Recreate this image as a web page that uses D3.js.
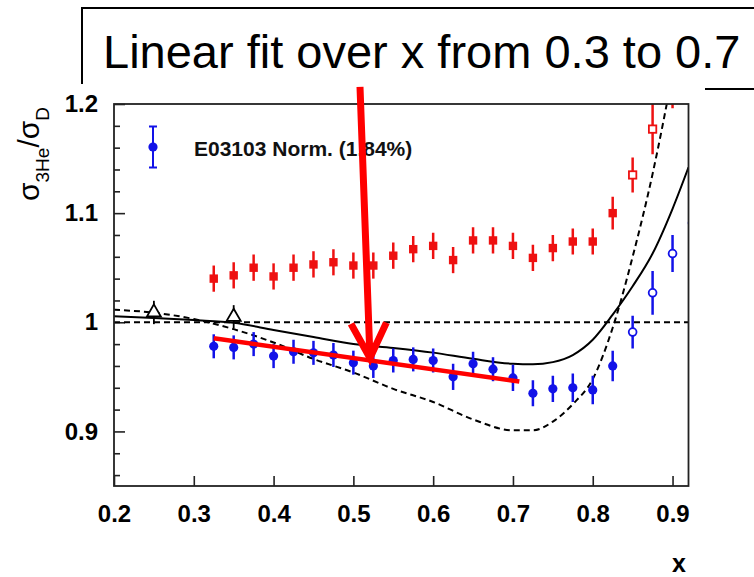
<!DOCTYPE html>
<html>
<head>
<meta charset="utf-8">
<script src="https://cdnjs.cloudflare.com/ajax/libs/d3/7.8.5/d3.min.js"></script>
<style>
  body { margin: 0; background: #fff; }
  svg { display: block; font-family: "Liberation Sans", Arial, Helvetica, sans-serif; }
</style>
</head>
<body>
<div id="scatter"></div>
<script>
// E03103 filled points (blue)
var blueX = [0.325, 0.35, 0.375, 0.4, 0.425, 0.45, 0.475, 0.5, 0.525, 0.55, 0.575,
             0.6, 0.625, 0.65, 0.675, 0.7, 0.725, 0.75, 0.775, 0.8, 0.825];
var blueY = [0.978, 0.977, 0.980, 0.969, 0.973, 0.972, 0.970, 0.963, 0.960, 0.965, 0.966,
             0.965, 0.950, 0.962, 0.957, 0.949, 0.935, 0.939, 0.940, 0.938, 0.960];
var blueErr = [0.011, 0.011, 0.011, 0.011, 0.011, 0.011, 0.011, 0.011, 0.011, 0.011, 0.011,
               0.011, 0.012, 0.011, 0.011, 0.012, 0.012, 0.012, 0.013, 0.013, 0.014];
// E03103 open points (blue)
var blueOpenX = [0.85, 0.875, 0.9, 0.925];
var blueOpenY = [0.991, 1.027, 1.063, 1.091];
var blueOpenErr = [0.015, 0.020, 0.017, 0.020];

// red squares
var redX = [0.325, 0.35, 0.375, 0.4, 0.425, 0.45, 0.475, 0.5, 0.525, 0.55, 0.575,
            0.6, 0.625, 0.65, 0.675, 0.7, 0.725, 0.75, 0.775, 0.8, 0.825];
var redY = [1.040, 1.043, 1.050, 1.042, 1.050, 1.053, 1.055, 1.052, 1.052, 1.061, 1.067,
            1.070, 1.057, 1.075, 1.075, 1.070, 1.059, 1.068, 1.074, 1.074, 1.100];
var redErr = [0.012, 0.012, 0.012, 0.012, 0.012, 0.012, 0.012, 0.012, 0.012, 0.012, 0.012,
              0.012, 0.012, 0.012, 0.012, 0.012, 0.012, 0.012, 0.012, 0.012, 0.015];
var redOpenX = [0.85, 0.875, 0.9];
var redOpenY = [1.135, 1.177, 1.215];
var redOpenErr = [0.016, 0.023, 0.019];

// open triangles (black)
var triX = [0.25, 0.35];
var triY = [1.009, 1.005];
var triErr = [0.0107, 0.0107];

// model curves
var curveX = [0.2, 0.25, 0.3, 0.35, 0.4, 0.45, 0.5, 0.55, 0.6, 0.65, 0.7, 0.725,
              0.75, 0.775, 0.8, 0.825, 0.85, 0.875, 0.9, 0.92];
var solidY = [1.0055, 1.004, 1.002, 0.9995, 0.993, 0.9865, 0.980, 0.9765, 0.9722, 0.9665, 0.962, 0.9615,
              0.9635, 0.970, 0.984, 1.007, 1.033, 1.063, 1.104, 1.142];
var dashedY = [1.0115, 1.0088, 1.003, 0.9937, 0.9815, 0.9664, 0.954, 0.939, 0.927, 0.911, 0.901, 0.901,
               0.909, 0.925, 0.948, 0.995, 1.060, 1.136, 1.228, 1.310];

// linear fit over x from 0.3 to 0.7
var fitRange = [0.325, 0.708];
var fitSlope = -0.1037;
var fitIntercept = 1.0191;
// arrow (data coordinates)
var arrowTail = [0.5083, 1.2156];
var arrowTip = [0.5208, 0.9673];

var xTicks = [0.2, 0.3, 0.4, 0.5, 0.6, 0.7, 0.8, 0.9];
var yTicks = [0.9, 1, 1.1, 1.2];
var yMinorTicks = [0.86, 0.88, 0.92, 0.94, 0.96, 0.98, 1.02, 1.04, 1.06, 1.08, 1.12, 1.14, 1.16, 1.18];

var legendLabel = "E03103 Norm. (1.84%)";
var noteText = "Linear fit over x from 0.3 to 0.7";

var BLUE = "#1212e8";
var RED = "#ee1111";

function zipPts(xs, ys, es) {
    return xs.map(function(x, i) { return {x: x, y: ys[i], e: es ? es[i] : 0}; });
}

doWork();

function doWork() {
    // 1) canvas
    var svg_width = 754;
    var svg_height = 577;
    var margin = { top: 104, right: 65.5, bottom: 91, left: 114 };
    var chartWidth = svg_width - margin.left - margin.right;
    var chartHeight = svg_height - margin.top - margin.bottom;

    var svg = d3.select("#scatter")
        .append("svg")
        .attr("width", svg_width)
        .attr("height", svg_height);

    // note box behind the plot
    svg.append("path")
        .attr("d", "M82,84 L82,8 L754,8 M705,89 L754,89")
        .attr("fill", "none")
        .attr("stroke", "#000")
        .attr("stroke-width", 2);
    svg.append("text")
        .attr("x", 103)
        .attr("y", 68)
        .attr("font-size", 47)
        .attr("fill", "#000")
        .text(noteText);

    var chartGroup = svg.append("g")
        .attr("transform", `translate(${margin.left}, ${margin.top})`);

    chartGroup.append("clipPath")
        .attr("id", "frameClip")
        .append("rect")
        .attr("width", chartWidth)
        .attr("height", chartHeight);

    // 2) scales
    var xScale = d3.scaleLinear().domain([0.2, 0.92]).range([0, chartWidth]);
    var yScale = d3.scaleLinear().domain([0.85, 1.2]).range([chartHeight, 0]);

    // 3) axes (ticks inward)
    var bottom_axis = d3.axisBottom(xScale)
        .tickValues(xTicks)
        .tickSize(-10)
        .tickPadding(19)
        .tickFormat(d3.format(".1f"));
    var left_axis = d3.axisLeft(yScale)
        .tickValues(yTicks)
        .tickSize(-11)
        .tickPadding(16)
        .tickFormat(function(d) { return d === 1 ? "1" : d3.format(".1f")(d); });
    var left_minor = d3.axisLeft(yScale)
        .tickValues(yMinorTicks)
        .tickSize(-6)
        .tickFormat("");

    [[bottom_axis, `translate(0, ${chartHeight})`], [left_axis, null], [left_minor, null]].forEach(function(a) {
        var g = chartGroup.append("g").call(a[0]);
        if (a[1]) g.attr("transform", a[1]);
        g.select(".domain").remove();
        g.attr("font-family", null)
            .attr("font-size", 24)
            .attr("font-weight", "bold")
            .style("color", "#222");
        g.selectAll("line").attr("stroke-width", 1.6);
        g.selectAll("text").attr("fill", "#000");
    });

    // 4) curves
    var plotGrp = chartGroup.append("g").attr("clip-path", "url(#frameClip)");

    var line = d3.line()
        .x(d => xScale(d.x))
        .y(d => yScale(d.y))
        .curve(d3.curveMonotoneX);

    plotGrp.append("path")
        .attr("d", line(zipPts(curveX, dashedY)))
        .attr("fill", "none")
        .attr("stroke", "#000")
        .attr("stroke-width", 2)
        .attr("stroke-dasharray", "6,4");

    plotGrp.append("path")
        .attr("d", line(zipPts(curveX, solidY)))
        .attr("fill", "none")
        .attr("stroke", "#000")
        .attr("stroke-width", 2);

    plotGrp.append("line")
        .attr("x1", xScale(0.2))
        .attr("x2", xScale(0.92))
        .attr("y1", yScale(1))
        .attr("y2", yScale(1))
        .attr("stroke", "#000")
        .attr("stroke-width", 2)
        .attr("stroke-dasharray", "6,4");

    // 5) error bars + markers
    function errBars(pts, color, width) {
        plotGrp.append("g").selectAll("line")
            .data(pts)
            .enter()
            .append("line")
            .attr("x1", d => xScale(d.x))
            .attr("x2", d => xScale(d.x))
            .attr("y1", d => yScale(d.y - d.e))
            .attr("y2", d => yScale(d.y + d.e))
            .attr("stroke", color)
            .attr("stroke-width", width);
    }

    var redPts = zipPts(redX, redY, redErr);
    var redOpenPts = zipPts(redOpenX, redOpenY, redOpenErr);
    var bluePts = zipPts(blueX, blueY, blueErr);
    var blueOpenPts = zipPts(blueOpenX, blueOpenY, blueOpenErr);
    var triPts = zipPts(triX, triY, triErr);

    errBars(redPts, RED, 2.5);
    errBars(redOpenPts, RED, 2.5);
    errBars(bluePts, BLUE, 2.5);
    errBars(blueOpenPts, BLUE, 2.5);
    errBars(triPts, "#000", 1.8);

    plotGrp.append("g").selectAll("rect")
        .data(redPts)
        .enter()
        .append("rect")
        .attr("x", d => xScale(d.x) - 4.2)
        .attr("y", d => yScale(d.y) - 4.2)
        .attr("width", 8.4)
        .attr("height", 8.4)
        .attr("fill", RED);

    plotGrp.append("g").selectAll("rect")
        .data(redOpenPts)
        .enter()
        .append("rect")
        .attr("x", d => xScale(d.x) - 3.7)
        .attr("y", d => yScale(d.y) - 3.7)
        .attr("width", 7.4)
        .attr("height", 7.4)
        .attr("fill", "#fff")
        .attr("stroke", RED)
        .attr("stroke-width", 1.8);

    plotGrp.append("g").selectAll("circle")
        .data(bluePts)
        .enter()
        .append("circle")
        .attr("cx", d => xScale(d.x))
        .attr("cy", d => yScale(d.y))
        .attr("r", 4.6)
        .attr("fill", BLUE);

    plotGrp.append("g").selectAll("circle")
        .data(blueOpenPts)
        .enter()
        .append("circle")
        .attr("cx", d => xScale(d.x))
        .attr("cy", d => yScale(d.y))
        .attr("r", 3.9)
        .attr("fill", "#fff")
        .attr("stroke", BLUE)
        .attr("stroke-width", 1.8);

    plotGrp.append("g").selectAll("path")
        .data(triPts)
        .enter()
        .append("path")
        .attr("d", d3.symbol().type(d3.symbolTriangle).size(85))
        .attr("transform", d => `translate(${xScale(d.x)}, ${yScale(d.y)})`)
        .attr("fill", "#fff")
        .attr("stroke", "#000")
        .attr("stroke-width", 1.8);

    // 6) legend
    var legend = chartGroup.append("g").attr("transform", "translate(39, 43)");
    legend.append("path")
        .attr("d", "M-4,-20.5 H4 M0,-20.5 V20.5 M-4,20.5 H4")
        .attr("stroke", BLUE)
        .attr("stroke-width", 2)
        .attr("fill", "none");
    legend.append("circle").attr("r", 4.6).attr("fill", BLUE);
    legend.append("text")
        .attr("x", 41)
        .attr("y", 8.5)
        .attr("font-size", 21)
        .attr("font-weight", "bold")
        .attr("fill", "#111")
        .text(legendLabel);

    // 7) frame
    chartGroup.append("rect")
        .attr("width", chartWidth)
        .attr("height", chartHeight)
        .attr("fill", "none")
        .attr("stroke", "#222")
        .attr("stroke-width", 1.8);

    // 8) axis titles
    var yTitle = svg.append("text")
        .attr("transform", "translate(38.5, 154) rotate(-90)")
        .attr("text-anchor", "middle")
        .attr("font-size", 30)
        .attr("fill", "#000");
    yTitle.append("tspan").text("σ");
    yTitle.append("tspan").attr("font-size", 19).attr("dy", 10).text("3He");
    yTitle.append("tspan").attr("dy", -10).text("/σ");
    yTitle.append("tspan").attr("font-size", 19).attr("dy", 10).text("D");

    svg.append("text")
        .attr("x", 679)
        .attr("y", 572)
        .attr("text-anchor", "middle")
        .attr("font-size", 25)
        .attr("font-weight", "bold")
        .attr("fill", "#000")
        .text("x");

    // 9) fit line and arrow on top
    chartGroup.append("line")
        .attr("x1", xScale(fitRange[0]))
        .attr("y1", yScale(fitIntercept + fitSlope * fitRange[0]))
        .attr("x2", xScale(fitRange[1]))
        .attr("y2", yScale(fitIntercept + fitSlope * fitRange[1]))
        .attr("stroke", "#ff0000")
        .attr("stroke-width", 4.5);

    var tx = xScale(arrowTip[0]), ty = yScale(arrowTip[1]);
    var sx = xScale(arrowTail[0]), sy = yScale(arrowTail[1]);
    var ang = Math.atan2(sy - ty, sx - tx);
    var wing = 39, spread = 27 * Math.PI / 180;
    var arrowPath = `M${sx},${sy} L${tx},${ty}` +
        ` M${tx + wing * Math.cos(ang - spread)},${ty + wing * Math.sin(ang - spread)} L${tx},${ty}` +
        ` L${tx + wing * Math.cos(ang + spread)},${ty + wing * Math.sin(ang + spread)}`;
    chartGroup.append("path")
        .attr("d", arrowPath)
        .attr("fill", "none")
        .attr("stroke", "#ff0000")
        .attr("stroke-width", 7)
        .attr("stroke-linejoin", "miter");
}
</script>
</body>
</html>
